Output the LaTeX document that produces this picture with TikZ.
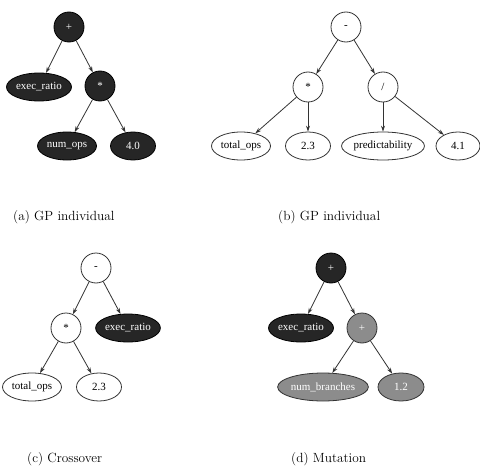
\documentclass[tikz,border=0pt]{standalone}
\usepackage{fontspec}
\newfontfamily\nodefont{Liberation Serif}
\usetikzlibrary{shapes.geometric,arrows.meta}
\definecolor{darkfill}{HTML}{262626}
\definecolor{grayfill}{HTML}{8C8C8C}
\definecolor{edgecol}{HTML}{333333}
\tikzset{
  base/.style={draw=edgecol, line width=0.8pt, inner sep=0pt, font=\nodefont\fontsize{11}{13}\selectfont},
  opc/.style={base, circle, minimum size=30pt},
  leaf/.style={base, ellipse, minimum height=28pt},
  darknode/.style={fill=darkfill, draw=black, text=white},
  graynode/.style={fill=grayfill, text=white},
  conn/.style={draw=edgecol, line width=0.8pt, -{Stealth[length=6pt,width=4pt]}},
  captext/.style={font=\fontsize{13.3}{16}\selectfont, anchor=west, inner sep=0pt}
}
\begin{document}
\begin{tikzpicture}[x=1pt,y=-1pt]
\useasboundingbox (0,0) rectangle (480,471);
% (a)
\node[opc,darknode] (a0) at (69,27) {+};
\node[leaf,darknode,minimum width=65pt] (a1) at (39,87) {exec\_ratio};
\node[opc,darknode] (a2) at (100,86) {*};
\node[leaf,darknode,minimum width=59pt] (a3) at (67,146) {num\_ops};
\node[leaf,darknode,minimum width=45pt] (a4) at (133,146) {4.0};
\draw[conn] (a0) -- (a1);
\draw[conn] (a0) -- (a2);
\draw[conn] (a2) -- (a3);
\draw[conn] (a2) -- (a4);
\node[captext] (capa) at (13,217) {(a) GP individual};
% (b)
\node[opc] (b0) at (346,27) {-};
\node[opc] (b1) at (308,87) {*};
\node[opc] (b2) at (383,87) {/};
\node[leaf,minimum width=59pt] (b3) at (241,146) {total\_ops};
\node[leaf,minimum width=45pt] (b4) at (308,146) {2.3};
\node[leaf,minimum width=78pt] (b5) at (383,146) {predictability};
\node[leaf,minimum width=44pt] (b6) at (458,146) {4.1};
\draw[conn] (b0) -- (b1);
\draw[conn] (b0) -- (b2);
\draw[conn] (b1) -- (b3);
\draw[conn] (b1) -- (b4);
\draw[conn] (b2) -- (b5);
\draw[conn] (b2) -- (b6);
\node[captext] (capb) at (278,217) {(b) GP individual};
% (c)
\node[opc] (c0) at (96,268) {-};
\node[opc] (c1) at (66,328) {*};
\node[leaf,darknode,minimum width=64pt] (c2) at (128,328) {exec\_ratio};
\node[leaf,minimum width=59pt] (c3) at (32,387) {total\_ops};
\node[leaf,minimum width=45pt] (c4) at (99,387) {2.3};
\draw[conn] (c0) -- (c1);
\draw[conn] (c0) -- (c2);
\draw[conn] (c1) -- (c3);
\draw[conn] (c1) -- (c4);
\node[captext] (capc) at (27,459) {(c) Crossover};
% (d)
\node[opc,darknode] (d0) at (331,268) {+};
\node[leaf,darknode,minimum width=65pt] (d1) at (301,328) {exec\_ratio};
\node[opc,graynode] (d2) at (362,328) {+};
\node[leaf,graynode,minimum width=85pt] (d3) at (323,387) {num\_branches};
\node[leaf,graynode,minimum width=46pt] (d4) at (401,387) {1.2};
\draw[conn] (d0) -- (d1);
\draw[conn] (d0) -- (d2);
\draw[conn] (d2) -- (d3);
\draw[conn] (d2) -- (d4);
\node[captext] (capd) at (291,459) {(d) Mutation};
\end{tikzpicture}
\end{document}
